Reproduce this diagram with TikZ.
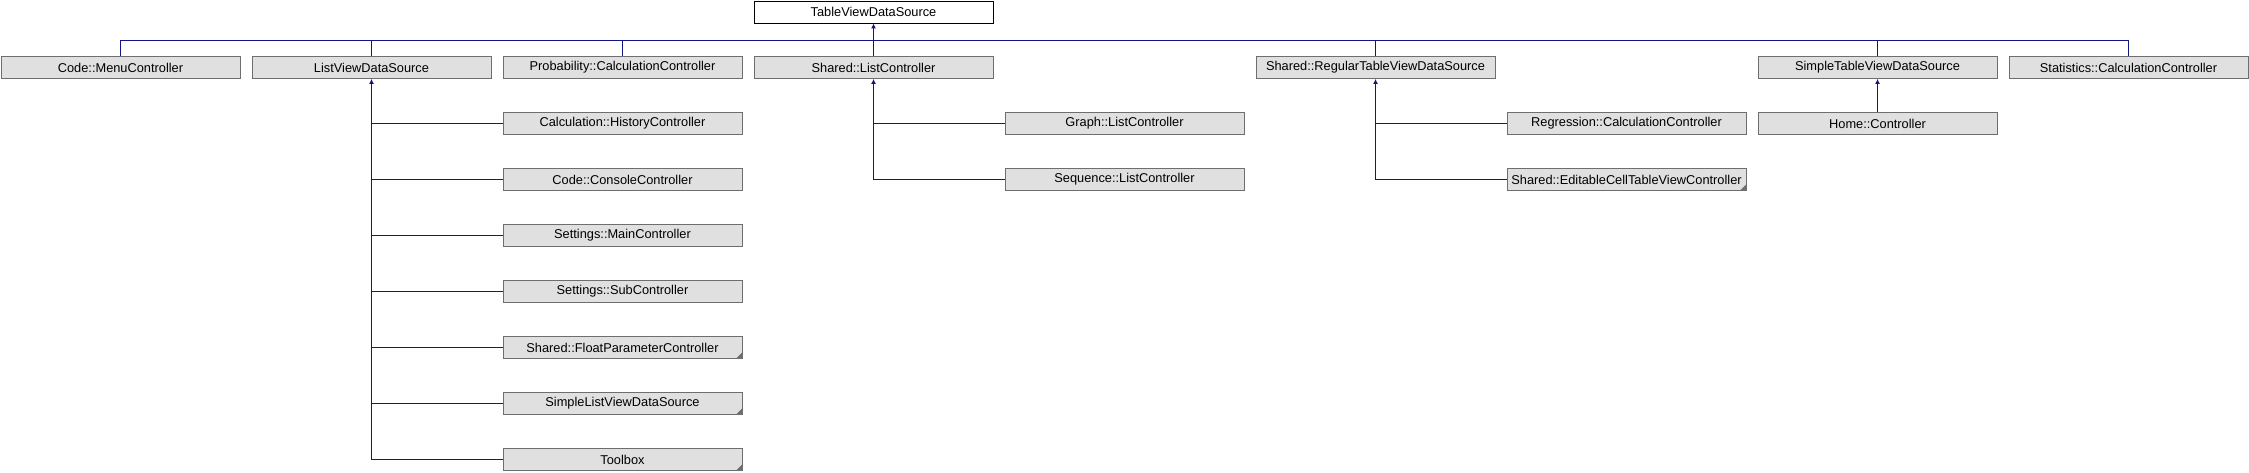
\documentclass[tikz,border=0pt]{standalone}
\usepackage{fontspec}
\setmainfont{Liberation Sans}
\usetikzlibrary{arrows.meta}
\definecolor{linkblue}{RGB}{20,20,130}
\definecolor{boxgray}{RGB}{224,224,224}
\definecolor{edgegray}{RGB}{110,110,110}

\begin{document}
\begin{tikzpicture}[x=1pt,y=1pt,
        cls/.style={draw=edgegray,line width=0.8pt,fill=boxgray,minimum width=239pt,minimum height=22pt,inner sep=0pt,font=\fontsize{12.8}{14}\selectfont},
        root/.style={cls,draw=black,fill=white},
        partial/.style={cls,path picture={\fill[edgegray] (path picture bounding box.south east) -- ++(-6,0) -- ++(6,6) -- cycle;}},
        link/.style={draw=linkblue,line width=1pt},
        inherit/.style={link,-{Latex[length=5pt,width=5pt]}}]
        \useasboundingbox (0,0) rectangle (2249,-472);

        \node[root] (tvds) at (873.5,-12) {TableViewDataSource};

        \node[cls] (menu) at (120.5,-67.5) {Code::MenuController};
        \node[cls] (lvds) at (371.5,-67.5) {ListViewDataSource};
        \node[cls] (prob) at (622.5,-67.5) {Probability::CalculationController};
        \node[cls] (slc) at (873.5,-67.5) {Shared::ListController};
        \node[cls] (srtv) at (1375.5,-67.5) {Shared::RegularTableViewDataSource};
        \node[cls] (stvds) at (1877.5,-67.5) {SimpleTableViewDataSource};
        \node[cls] (stat) at (2128.5,-67.5) {Statistics::CalculationController};

        % children of ListViewDataSource
        \node[cls] (hist) at (622.5,-123.5) {Calculation::HistoryController};
        \node[cls] (cons) at (622.5,-179.5) {Code::ConsoleController};
        \node[cls] (smain) at (622.5,-235.5) {Settings::MainController};
        \node[cls] (ssub) at (622.5,-291.5) {Settings::SubController};
        \node[partial] (fpc) at (622.5,-347.5) {Shared::FloatParameterController};
        \node[partial] (slvds) at (622.5,-403.5) {SimpleListViewDataSource};
        \node[partial] (tbox) at (622.5,-459.5) {Toolbox};

        \node[cls] (glc) at (1124.5,-123.5) {Graph::ListController};
        \node[cls] (seqlc) at (1124.5,-179.5) {Sequence::ListController};

        \node[cls] (regc) at (1626.5,-123.5) {Regression::CalculationController};
        \node[partial] (ecell) at (1626.5,-179.5) {Shared::EditableCellTableViewController};

        \node[cls] (home) at (1877.5,-123.5) {Home::Controller};

        % bus under TableViewDataSource
        \coordinate (bus) at (0,-40);
        \draw[link] (menu.north) -- (menu.north |- bus) -- (stat.north |- bus) -- (stat.north);
        \draw[link] (lvds.north) -- (lvds.north |- bus);
        \draw[link] (prob.north) -- (prob.north |- bus);
        \draw[link] (srtv.north) -- (srtv.north |- bus);
        \draw[link] (stvds.north) -- (stvds.north |- bus);
        \draw[inherit] (slc.north) -- (tvds.south);

        \draw[inherit] (tbox.west) -| (lvds.south);
        \draw[link] (hist.west) -- (hist.west -| lvds.south);
        \draw[link] (cons.west) -- (cons.west -| lvds.south);
        \draw[link] (smain.west) -- (smain.west -| lvds.south);
        \draw[link] (ssub.west) -- (ssub.west -| lvds.south);
        \draw[link] (fpc.west) -- (fpc.west -| lvds.south);
        \draw[link] (slvds.west) -- (slvds.west -| lvds.south);

        \draw[inherit] (seqlc.west) -| (slc.south);
        \draw[link] (glc.west) -- (glc.west -| slc.south);

        \draw[inherit] (ecell.west) -| (srtv.south);
        \draw[link] (regc.west) -- (regc.west -| srtv.south);

        \draw[inherit] (home.north) -- (stvds.south);

    \end{tikzpicture}
\end{document}
